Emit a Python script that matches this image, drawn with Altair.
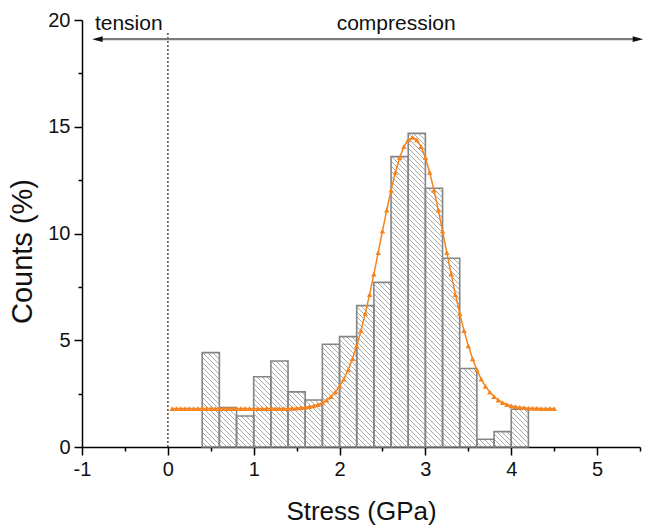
import altair as alt
import pandas as pd
import math

# ---------------- data ----------------
bin_left = [0.4, 0.6, 0.8, 1.0, 1.2, 1.4, 1.6, 1.8, 2.0, 2.2, 2.4, 2.6, 2.8, 3.0, 3.2, 3.4, 3.6, 3.8, 4.0]
bin_right = [0.6, 0.8, 1.0, 1.2, 1.4, 1.6, 1.8, 2.0, 2.2, 2.4, 2.6, 2.8, 3.0, 3.2, 3.4, 3.6, 3.8, 4.0, 4.2]
counts = [4.42, 1.85, 1.45, 3.29, 4.03, 2.58, 2.20, 4.81, 5.17, 6.62, 7.71, 13.60, 14.69, 12.12, 8.84, 3.68, 0.36, 0.72, 1.77]

fit_x = [0.05, 0.10, 0.15, 0.20, 0.25, 0.30, 0.35, 0.40, 0.45, 0.50,
         0.55, 0.60, 0.65, 0.70, 0.75, 0.80, 0.85, 0.90, 0.95, 1.00,
         1.05, 1.10, 1.15, 1.20, 1.25, 1.30, 1.35, 1.40, 1.45, 1.50,
         1.55, 1.60, 1.65, 1.70, 1.75, 1.80, 1.85, 1.90, 1.95, 2.00,
         2.05, 2.10, 2.15, 2.20, 2.25, 2.30, 2.35, 2.40, 2.45, 2.50,
         2.55, 2.60, 2.65, 2.70, 2.75, 2.80, 2.85, 2.90, 2.95, 3.00,
         3.05, 3.10, 3.15, 3.20, 3.25, 3.30, 3.35, 3.40, 3.45, 3.50,
         3.55, 3.60, 3.65, 3.70, 3.75, 3.80, 3.85, 3.90, 3.95, 4.00,
         4.05, 4.10, 4.15, 4.20, 4.25, 4.30, 4.35, 4.40, 4.45, 4.50]
fit_y = [1.80, 1.80, 1.80, 1.80, 1.80, 1.80, 1.80, 1.80, 1.80, 1.80,
         1.80, 1.80, 1.80, 1.80, 1.80, 1.80, 1.80, 1.80, 1.80, 1.80,
         1.80, 1.80, 1.80, 1.80, 1.80, 1.80, 1.80, 1.80, 1.81, 1.82,
         1.84, 1.86, 1.89, 1.93, 1.99, 2.08, 2.20, 2.36, 2.57, 2.84,
         3.18, 3.61, 4.13, 4.74, 5.45, 6.26, 7.14, 8.10, 9.10, 10.11,
         11.10, 12.03, 12.86, 13.55, 14.07, 14.39, 14.50, 14.39, 14.07, 13.55,
         12.86, 12.03, 11.10, 10.11, 9.10, 8.10, 7.14, 6.26, 5.45, 4.74,
         4.13, 3.61, 3.18, 2.84, 2.57, 2.36, 2.20, 2.08, 1.99, 1.93,
         1.89, 1.86, 1.84, 1.82, 1.81, 1.81, 1.80, 1.80, 1.80, 1.80]

x_major = [-1, 0, 1, 2, 3, 4, 5]
x_minor = [-0.5, 0.5, 1.5, 2.5, 3.5, 4.5, 5.5]
y_major = [0, 5, 10, 15, 20]
y_minor = [2.5, 7.5, 12.5, 17.5]

# ---------------- layout / style ----------------
W, H = 558, 427
X_DOM = [-1, 5.5]
Y_DOM = [0, 20]
FONT = "Liberation Sans"
ORANGE = "#f5841f"

bars = pd.DataFrame({"x0": bin_left, "x1": bin_right, "count": counts})
fit = pd.DataFrame({"x": fit_x, "y": fit_y})

# hatch lines ("\\" pattern) computed from the bars, in pixel space
kx = W / (X_DOM[1] - X_DOM[0])
ky = H / (Y_DOM[1] - Y_DOM[0])
SP = 5.0
rows = []
for x0, x1, h in zip(bin_left, bin_right, counts):
    u0, u1, hh = (x0 - X_DOM[0]) * kx, (x1 - X_DOM[0]) * kx, h * ky
    k = math.floor(u0 / SP)
    while k * SP <= u1 + hh:
        c = k * SP
        ua, ub = max(u0, c - hh), min(u1, c)
        if ub - ua > 0.3:
            rows.append({"x": ua / kx + X_DOM[0], "y": (c - ua) / ky,
                         "x2": ub / kx + X_DOM[0], "y2": (c - ub) / ky})
        k += 1
hatch = pd.DataFrame(rows)

xs = alt.Scale(domain=X_DOM, nice=False, zero=False)
ys = alt.Scale(domain=Y_DOM, nice=False, zero=False)

minor_x_axis = alt.Axis(values=x_minor, tickSize=4, tickWidth=1.5, tickColor="black",
                        labels=False, domain=False, grid=False, title=None, orient="bottom")
minor_y_axis = alt.Axis(values=y_minor, tickSize=4, tickWidth=1.5, tickColor="black",
                        labels=False, domain=False, grid=False, title=None, orient="left")

major_x_axis = alt.Axis(values=x_major, tickSize=8, tickWidth=1.5, tickColor="black",
                        domainColor="black", domainWidth=1.5, grid=False, orient="bottom",
                        labelFont=FONT, labelFontSize=20, labelColor="#111",
                        labelFlush=False, labelPadding=4, labelExpr="'' + datum.value",
                        title="Stress (GPa)", titleFont=FONT, titleFontSize=26,
                        titleFontWeight="normal", titleColor="#111",
                        titleX=W / 2, titleY=72, titleBaseline="alphabetic", titleAlign="center")
major_y_axis = alt.Axis(values=y_major, tickSize=8, tickWidth=1.5, tickColor="black",
                        domainColor="black", domainWidth=1.5, grid=False, orient="left",
                        labelFont=FONT, labelFontSize=20, labelColor="#111",
                        labelFlush=False, labelPadding=4,
                        title="Counts (%)", titleFont=FONT, titleFontSize=29,
                        titleFontWeight="normal", titleColor="#111",
                        titleX=-60, titleY=231, titleAngle=-90, titleBaseline="middle",
                        titleAlign="center")

hatch_layer = alt.Chart(hatch).mark_rule(color="#a8a8a8", strokeWidth=1).encode(
    x=alt.X("x:Q", scale=xs, axis=minor_x_axis),
    x2="x2:Q",
    y=alt.Y("y:Q", scale=ys, axis=minor_y_axis),
    y2="y2:Q",
)

bar_layer = alt.Chart(bars).mark_rect(fillOpacity=0, stroke="#858585", strokeWidth=1.6).encode(
    x=alt.X("x0:Q", scale=xs, axis=major_x_axis),
    x2="x1:Q",
    y=alt.Y("count:Q", scale=ys, axis=major_y_axis),
    y2=alt.Y2(datum=0),
)

fit_line = alt.Chart(fit).mark_line(color=ORANGE, strokeWidth=1.5).encode(
    x=alt.X("x:Q", scale=xs, axis=None),
    y=alt.Y("y:Q", scale=ys, axis=None),
)
fit_pts = alt.Chart(fit).mark_point(shape="triangle-up", filled=True, size=30,
                                    color=ORANGE, opacity=1).encode(
    x=alt.X("x:Q", scale=xs, axis=None),
    y=alt.Y("y:Q", scale=ys, axis=None),
)

base = alt.Chart(pd.DataFrame({"a": [0]}))

zero_line = base.mark_rule(color="#7d5c5c", strokeDash=[2, 2], strokeWidth=1.8).encode(
    x=alt.XDatum(0, scale=xs, axis=None),
    y=alt.YDatum(0, scale=ys, axis=None),
    y2=alt.Y2Datum(19.4),
)

arrow_line = base.mark_rule(color="#7a7a7a", strokeWidth=2.2).encode(
    x=alt.XDatum(-0.84, scale=xs, axis=None),
    x2=alt.X2Datum(5.47),
    y=alt.YDatum(19.1, scale=ys, axis=None),
)
arrow_left = base.mark_point(shape="M-1,0L1,-0.55L1,0.55Z", filled=True, size=110,
                             color="#111", opacity=1).encode(
    x=alt.XDatum(-0.82, scale=xs, axis=None),
    y=alt.YDatum(19.1, scale=ys, axis=None),
)
arrow_right = base.mark_point(shape="M1,0L-1,-0.55L-1,0.55Z", filled=True, size=110,
                              color="#111", opacity=1).encode(
    x=alt.XDatum(5.476, scale=xs, axis=None),
    y=alt.YDatum(19.1, scale=ys, axis=None),
)

txt_tension = base.mark_text(text="tension", align="left", baseline="alphabetic",
                             font=FONT, fontSize=21, color="#111").encode(
    x=alt.XDatum(-0.85, scale=xs, axis=None),
    y=alt.YDatum(19.53, scale=ys, axis=None),
)
txt_comp = base.mark_text(text="compression", align="center", baseline="alphabetic",
                          font=FONT, fontSize=21, color="#111").encode(
    x=alt.XDatum(2.66, scale=xs, axis=None),
    y=alt.YDatum(19.53, scale=ys, axis=None),
)

chart = alt.layer(
    hatch_layer, bar_layer, zero_line, fit_line, fit_pts,
    arrow_line, arrow_left, arrow_right, txt_tension, txt_comp,
).resolve_axis(x="independent", y="independent").properties(
    width=W, height=H,
    autosize=alt.AutoSizeParams(type="none"),
    padding={"left": 82, "top": 20, "right": 5, "bottom": 80},
    background="white",
).configure_view(strokeWidth=0)

chart.save("out.html", embed_options={"renderer": "svg", "actions": False})
